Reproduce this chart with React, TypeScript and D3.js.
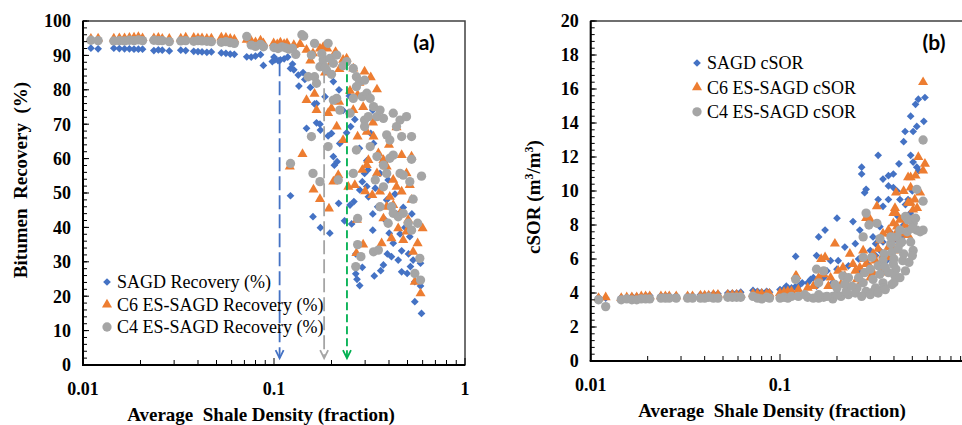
import React from "react";
import * as d3 from "d3";

// shale density values shared by the low-density (flat) runs
const flatX = [0.011, 0.012, 0.0145, 0.0155, 0.0165, 0.0175, 0.0185, 0.0195, 0.0205, 0.0235, 0.0248, 0.026, 0.0283, 0.0325, 0.0345, 0.038, 0.04, 0.042, 0.0445, 0.047, 0.053, 0.056, 0.059, 0.062, 0.072, 0.076, 0.08, 0.085, 0.088];

const sagdRecFlat = [92.1, 91.9, 92.1, 92, 91.9, 91.9, 91.8, 91.8, 91.8, 91.4, 91.6, 91.5, 91.3, 91.5, 91.4, 91.2, 91.1, 91, 90.9, 91, 90.7, 90.6, 90.4, 90.3, 89.6, 89.5, 89.8, 90.2, 87.1];
const c6RecFlat = [94.8, 94.9, 94.9, 95, 95, 95.1, 95.2, 95.3, 95, 95, 95.1, 94.8, 94.8, 94.9, 95.2, 95.1, 95, 95, 94.8, 94.9, 95.2, 95.1, 94.8, 94.6, 94.5, 94.2, 93.8, 94.3, 93.5];
const c4RecFlat = [94.4, 94.3, 94.2, 94.3, 94.2, 94.4, 94.3, 94.5, 94.3, 94.4, 94.3, 94.3, 94, 94.2, 94.3, 94.1, 94.3, 94.2, 94.1, 94, 93.8, 94, 93.7, 93.5, 95.5, 93, 92.6, 93.2, 92.5];

const sagdSorFlat = [3.75, 3.7, 3.75, 3.75, 3.8, 3.8, 3.8, 3.85, 3.85, 3.85, 3.85, 3.85, 3.85, 3.85, 3.85, 3.9, 3.9, 3.9, 3.95, 3.95, 4.0, 4.0, 4.0, 4.05, 4.15, 4.1, 4.05, 4.1, 4.05];
const c6SorFlat = [3.7, 3.75, 3.7, 3.75, 3.75, 3.75, 3.8, 3.8, 3.8, 3.8, 3.8, 3.8, 3.8, 3.8, 3.8, 3.85, 3.85, 3.85, 3.9, 3.9, 3.9, 3.9, 3.9, 3.9, 3.95, 3.95, 3.95, 3.95, 3.95];
const c4SorFlat = [3.6, 3.2, 3.6, 3.65, 3.6, 3.6, 3.65, 3.65, 3.65, 3.7, 3.7, 3.7, 3.7, 3.7, 3.7, 3.7, 3.7, 3.75, 3.7, 3.7, 3.75, 3.75, 3.75, 3.75, 3.8, 3.7, 3.65, 3.75, 3.7];

// [shale density, recovery %] above 0.09
const sagdRec: [number, number][] = [
  [0.098, 88.2], [0.101, 88.7], [0.108, 88.7], [0.113, 89], [0.1, 89.5], [0.105, 88.5], [0.118, 89.5], [0.125, 87.5],
  [0.122, 86.2], [0.127, 85.8], [0.134, 84.3], [0.135, 81.1], [0.145, 83], [0.155, 80.7], [0.148, 68.8], [0.163, 75.9],
  [0.167, 76], [0.167, 70.4], [0.174, 70], [0.175, 68.3], [0.122, 49.2], [0.16, 43.1], [0.175, 39.9], [0.196, 38.3],
  [0.192, 66.6], [0.2, 67.3], [0.2045, 60.6], [0.207, 58.1], [0.214, 59.1], [0.218, 47], [0.221, 64.4], [0.2045, 82.4],
  [0.219, 80], [0.234, 41.9], [0.24, 67.5], [0.248, 78.2], [0.252, 69.3], [0.255, 41], [0.265, 71.4], [0.25, 46.5],
  [0.262, 47.5], [0.268, 32.3], [0.268, 26.5], [0.272, 24.9], [0.281, 23.1], [0.29, 28.4], [0.281, 50.9], [0.29, 53.3],
  [0.298, 55.7], [0.306, 59.4], [0.31, 56.7], [0.312, 48.9], [0.321, 67.3], [0.329, 74.1], [0.329, 43.9], [0.329, 39.2],
  [0.339, 51.4], [0.349, 46], [0.335, 25.9], [0.362, 27.4], [0.374, 29.1], [0.381, 42.2], [0.392, 32.3], [0.389, 48],
  [0.396, 53.8], [0.401, 38.3], [0.412, 31.5], [0.421, 35.4], [0.43, 49.7], [0.438, 43.9], [0.447, 30.5], [0.457, 38.1],
  [0.466, 33.2], [0.475, 45.8], [0.466, 27.1], [0.485, 40], [0.498, 26.6], [0.506, 32.3], [0.514, 37.3], [0.527, 43.9],
  [0.518, 28.6], [0.535, 30.5], [0.546, 24.2], [0.546, 18.4], [0.585, 29.6], [0.585, 23], [0.592, 15], [0.575, 30.5],
  [0.306, 51.9], [0.359, 55.7], [0.374, 59.6], [0.332, 64.4], [0.142, 85], [0.185, 78], [0.23, 74], [0.28, 63],
];
const c6Rec: [number, number][] = [
  [0.0996, 93.5], [0.108, 93.7], [0.117, 93.5], [0.127, 93], [0.104, 93.2], [0.113, 93.3], [0.137, 93.3], [0.148, 91.6],
  [0.16, 90.6], [0.174, 92], [0.181, 92.4], [0.19, 92], [0.21, 91], [0.23, 88.7], [0.24, 89.1], [0.26, 86.2],
  [0.298, 85.3], [0.321, 83.6], [0.346, 80.1], [0.148, 77], [0.163, 78.8], [0.167, 74.1], [0.192, 73.2], [0.2, 74.6],
  [0.213, 69.3], [0.219, 76.5], [0.23, 65.4], [0.26, 74.1], [0.274, 66.4], [0.293, 75], [0.306, 67.8], [0.312, 59.6],
  [0.332, 66.4], [0.352, 61.5], [0.374, 59.6], [0.389, 57.7], [0.438, 69.1], [0.466, 61], [0.494, 55.7], [0.525, 48],
  [0.121, 57.7], [0.141, 61.3], [0.161, 51], [0.174, 48.2], [0.194, 45.5], [0.2045, 53.3], [0.217, 55.2], [0.245, 51.8],
  [0.265, 52.3], [0.272, 42.2], [0.293, 35], [0.27, 32.5], [0.29, 56.7], [0.306, 58.1], [0.327, 49.4], [0.346, 55.7],
  [0.359, 50.4], [0.366, 35.4], [0.389, 46], [0.404, 48.9], [0.412, 36.8], [0.421, 53.8], [0.438, 51.8], [0.447, 39.7],
  [0.457, 44.1], [0.466, 50.4], [0.475, 36.3], [0.494, 38.8], [0.504, 42.2], [0.514, 52.3], [0.535, 32.9], [0.546, 24.2],
  [0.565, 35.4], [0.585, 20.8], [0.6, 39.7], [0.525, 60.6], [0.274, 78.5], [0.25, 79.7], [0.374, 42.6], [0.421, 46.5],
  [0.2, 88], [0.22, 86], [0.155, 88.5], [0.185, 85], [0.28, 82], [0.33, 70.5], [0.4, 64], [0.3, 50.5],
];
const c4Rec: [number, number][] = [
  [0.1, 92.3], [0.105, 92], [0.11, 92.5], [0.115, 92.2], [0.12, 91.8], [0.125, 92], [0.13, 90.3],
  [0.122, 58.6], [0.14, 96], [0.143, 95.6], [0.157, 90.1], [0.163, 93.5], [0.192, 93.5], [0.174, 86.7], [0.181, 88.7],
  [0.188, 85.8], [0.196, 89.1], [0.2045, 87.7], [0.213, 90.1], [0.24, 88.2], [0.26, 86.2], [0.27, 83.8], [0.281, 82.4],
  [0.298, 82.8], [0.163, 83.8], [0.167, 81.9], [0.151, 83.8], [0.2045, 77], [0.213, 77.5], [0.221, 74.1], [0.25, 73.2],
  [0.26, 77.5], [0.27, 80.9], [0.29, 78], [0.306, 79], [0.319, 77.5], [0.332, 75.1], [0.298, 71.2], [0.312, 72.2],
  [0.346, 72.2], [0.359, 74.1], [0.374, 71.7], [0.389, 66.9], [0.404, 65.4], [0.421, 73.2], [0.438, 69.3], [0.457, 71.2],
  [0.494, 72.2], [0.466, 66.4], [0.525, 66.4], [0.27, 62.5], [0.298, 69.3], [0.319, 63.5], [0.346, 60.6], [0.374, 58.1],
  [0.404, 60.1], [0.421, 61], [0.457, 55.7], [0.475, 55.2], [0.514, 53.3], [0.592, 54.9], [0.525, 59.8], [0.157, 66.4],
  [0.16, 55.7], [0.174, 53.3], [0.192, 63.5], [0.217, 53.8], [0.26, 55.7], [0.274, 42.6], [0.274, 35], [0.268, 28.6],
  [0.285, 31.5], [0.332, 32.9], [0.352, 33.4], [0.339, 53.8], [0.374, 51.8], [0.412, 46], [0.421, 44.1], [0.447, 43.1],
  [0.475, 44.1], [0.504, 41.2], [0.525, 39.2], [0.535, 48.2], [0.565, 41.2], [0.58, 31], [0.585, 24.7], [0.546, 26.6],
  [0.389, 55.7], [0.359, 46], [0.396, 41.2], [0.178, 90.5], [0.185, 86.5], [0.2, 84.5], [0.23, 87],
];

// [shale density, cSOR m3/m3] above 0.09
const sagdSor: [number, number][] = [
  [0.1, 4.2], [0.105, 4.25], [0.11, 4.3], [0.115, 4.3], [0.12, 4.35], [0.125, 4.4], [0.121, 6.15], [0.108, 4.4],
  [0.131, 4.6], [0.14, 4.6], [0.145, 4.8], [0.15, 4.9], [0.156, 4.4], [0.156, 6.2], [0.16, 7.3], [0.173, 7.7],
  [0.177, 5.3], [0.185, 5.9], [0.19, 4.6], [0.2, 8.4], [0.203, 5.9], [0.22, 6.7], [0.224, 4.9], [0.243, 8.2],
  [0.25, 6.9], [0.264, 7.7], [0.264, 5.2], [0.27, 11.4], [0.27, 11.0], [0.275, 6.1], [0.28, 9.9], [0.285, 10.1],
  [0.3, 6.5], [0.31, 7.3], [0.32, 6.9], [0.33, 12.1], [0.33, 9.5], [0.337, 7.9], [0.337, 6.5], [0.35, 10.7],
  [0.35, 9.1], [0.365, 5.9], [0.374, 10.9], [0.374, 10.3], [0.374, 9.5], [0.397, 11], [0.397, 10.2], [0.415, 10],
  [0.415, 7.1], [0.425, 11.6], [0.43, 9.5], [0.445, 7.3], [0.45, 12.9], [0.45, 8.0], [0.458, 13.5], [0.475, 9.5],
  [0.488, 8.7], [0.49, 14.4], [0.49, 12.1], [0.505, 13.5], [0.505, 11.7], [0.52, 15.1], [0.528, 13.8], [0.528, 11.4],
  [0.538, 15.4], [0.575, 14.1], [0.583, 15.5], [0.17, 4.9], [0.2, 5.4], [0.23, 5.6], [0.26, 6.0], [0.29, 5.7],
  [0.32, 6.2], [0.35, 7.0], [0.38, 7.6], [0.42, 8.5], [0.46, 9.2], [0.5, 10.0], [0.54, 11.2],
];
const c6Sor: [number, number][] = [
  [0.1, 4.0], [0.105, 4.05], [0.11, 4.1], [0.115, 4.1], [0.125, 4.2], [0.14, 4.3], [0.15, 4.4], [0.122, 5.0],
  [0.57, 16.4], [0.538, 12], [0.583, 11.6], [0.57, 11.2], [0.52, 10.9], [0.49, 10.8], [0.475, 10.8], [0.45, 10],
  [0.49, 10.2], [0.41, 9.9], [0.515, 9.5], [0.49, 9.3], [0.475, 9.3], [0.505, 8.9], [0.325, 9.1], [0.405, 9],
  [0.397, 8.7], [0.41, 8.7], [0.285, 8.4], [0.3, 8.3], [0.43, 8.3], [0.45, 7.5], [0.397, 8.1], [0.374, 7.7],
  [0.35, 7.5], [0.337, 7.1], [0.475, 7.4], [0.195, 6.9], [0.234, 6.3], [0.275, 6.5], [0.31, 6.3], [0.33, 6.6],
  [0.374, 6.7], [0.165, 6.0], [0.173, 6.1], [0.16, 4.9], [0.17, 5.1], [0.185, 4.9], [0.203, 5.3], [0.215, 5.5],
  [0.243, 5.7], [0.264, 5.5], [0.285, 5.7], [0.3, 5.5], [0.31, 5.2], [0.345, 5.2], [0.374, 6.1], [0.397, 7.2],
  [0.3, 4.9], [0.121, 5.0], [0.224, 4.6], [0.255, 4.8], [0.38, 7.5], [0.415, 7.9], [0.41, 7.5], [0.55, 9.9],
  [0.18, 4.4], [0.21, 4.5], [0.27, 4.7], [0.22, 5.0], [0.25, 5.3], [0.28, 6.0], [0.32, 5.9], [0.35, 6.2],
  [0.4, 6.5], [0.43, 7.0], [0.46, 8.0], [0.5, 8.3], [0.53, 9.0],
];
const c4Sor: [number, number][] = [
  [0.1, 3.7], [0.105, 3.75], [0.11, 3.7], [0.115, 3.8], [0.125, 3.8], [0.14, 3.75], [0.16, 3.7], [0.17, 3.75],
  [0.19, 3.8], [0.21, 3.8], [0.23, 3.9], [0.19, 3.65], [0.57, 13], [0.528, 10.1], [0.57, 9.4], [0.46, 8.5],
  [0.49, 8.3], [0.505, 8.1], [0.528, 7.7], [0.57, 7.7], [0.55, 7.6], [0.49, 7.0], [0.505, 6.5], [0.415, 7.3],
  [0.43, 6.9], [0.45, 6.3], [0.445, 5.9], [0.385, 6.9], [0.39, 6.4], [0.355, 6.3], [0.285, 8.7], [0.295, 8.0],
  [0.275, 7.3], [0.325, 8.1], [0.337, 7.2], [0.305, 6.1], [0.275, 6.1], [0.397, 5.7], [0.41, 5.4], [0.374, 5.2],
  [0.405, 5.0], [0.337, 5.1], [0.31, 4.8], [0.275, 4.6], [0.255, 4.3], [0.35, 4.6], [0.39, 4.5], [0.32, 4.3],
  [0.285, 4.1], [0.25, 4.0], [0.224, 4.1], [0.2, 3.9], [0.177, 3.8], [0.16, 3.9], [0.15, 3.7], [0.135, 3.9],
  [0.16, 4.6], [0.17, 5.3], [0.156, 5.4], [0.195, 4.5], [0.215, 5.0], [0.23, 4.9], [0.121, 4.8], [0.35, 5.9],
  [0.43, 7.7], [0.475, 8.3], [0.385, 7.3], [0.313, 4.1], [0.355, 4.3], [0.27, 3.8], [0.2, 4.3], [0.22, 4.5],
  [0.24, 4.4], [0.26, 4.9], [0.28, 5.2], [0.3, 5.4], [0.33, 5.6], [0.36, 5.5], [0.4, 6.0], [0.42, 6.6],
  [0.44, 7.0], [0.47, 7.6], [0.5, 7.8], [0.52, 8.4], [0.3, 3.9], [0.33, 4.0], [0.36, 4.2], [0.4, 4.6],
  [0.43, 4.9], [0.46, 5.3], [0.48, 5.8], [0.5, 6.2],
];

// dashed arrows in panel (a): threshold shale density and start value
const arrowX = [0.107, 0.183, 0.241];
const arrowTop = [88, 86, 88];

const legendA = ["SAGD Recovery (%)", "C6 ES-SAGD Recovery (%)", "C4 ES-SAGD Recovery (%)"];
const legendB = ["SAGD cSOR", "C6 ES-SAGD cSOR", "C4 ES-SAGD cSOR"];
const xTicks = [0.01, 0.1, 1];
const xTickLabels = ["0.01", "0.1", "1"];

const COLORS = ["#4472C4", "#ED7D31", "#A5A5A5"];
const ARROW_COLORS = ["#4472C4", "#A5A5A5", "#00B050"];
const ARROW_DASH = ["14,5", "14,5", "8,4"];
const SERIF = "Liberation Serif";

const SHAPES = [
  d3.symbol().type(d3.symbolSquare).size(30)(),
  d3.symbol().type(d3.symbolTriangle).size(44)(),
  d3.symbol().type(d3.symbolCircle).size(68)(),
];

const join = (xs: number[], ys: number[], rest: [number, number][]) =>
  xs.map((x, i) => [x, ys[i]] as [number, number]).concat(rest);

function Marker({ k, x, y }: { k: number; x: number; y: number }) {
  return (
    <path
      d={SHAPES[k] as string}
      fill={COLORS[k]}
      transform={`translate(${x},${y})${k === 0 ? " rotate(45)" : ""}`}
    />
  );
}

type PanelProps = {
  left: number;
  right: number;
  top: number;
  bottom: number;
  yMax: number;
  yStep: number;
  yMinor: number;
  series: [number, number][][];
  legend: string[];
  legendX: number;
  legendY: number;
  legendGap: number;
  tag: string;
  tagX: number;
  yTitle: React.ReactNode;
  yTitleX: number;
  yTitleY: number;
  xTitleX: number;
  xTitleY: number;
  maxLabelX: number;
  children?: (x: d3.ScaleLogarithmic<number, number>, y: d3.ScaleLinear<number, number>) => React.ReactNode;
};

function Panel(p: PanelProps) {
  const x = d3.scaleLog().domain([0.01, 1]).range([p.left, p.right]);
  const y = d3.scaleLinear().domain([0, p.yMax]).range([p.bottom, p.top]);
  const majors = d3.range(0, p.yMax + 1e-9, p.yStep);
  const minors = d3.range(0, p.yMax + 1e-9, p.yMinor);
  const xMinor = [0.01, 0.1].flatMap((d) => d3.range(2, 10).map((k) => k * d));
  const font = { fontFamily: SERIF };

  return (
    <g>
      {p.series.map((pts, k) =>
        pts.map(([a, b], i) => <Marker key={`${k}-${i}`} k={k} x={x(a)} y={y(b)} />)
      )}
      {p.children && p.children(x, y)}
      {/* frame */}
      <rect x={p.left} y={p.top} width={p.right - p.left} height={p.bottom - p.top} fill="none" stroke="#404040" strokeWidth={1.5} />
      <line x1={p.left} x2={p.left} y1={p.top} y2={p.bottom} stroke="#000" strokeWidth={2} />
      <line x1={p.left - 1} x2={p.right} y1={p.bottom} y2={p.bottom} stroke="#000" strokeWidth={2} />
      {minors.map((v) => (
        <line key={`ym${v}`} x1={p.left} x2={p.left + 4} y1={y(v)} y2={y(v)} stroke="#000" strokeWidth={1} />
      ))}
      {majors.map((v) => (
        <g key={`y${v}`}>
          <line x1={p.left} x2={p.left + 6} y1={y(v)} y2={y(v)} stroke="#000" strokeWidth={1} />
          <text x={p.left - 12} y={y(v)} dy="0.35em" textAnchor="end" style={font} fontWeight="bold" fontSize={18}>
            {d3.format("d")(v)}
          </text>
        </g>
      ))}
      {xMinor.map((v) => (
        <line key={`xm${v}`} x1={x(v)} x2={x(v)} y1={p.bottom} y2={p.bottom - 5} stroke="#000" strokeWidth={1} />
      ))}
      {xTicks.map((v, i) => (
        <g key={`x${v}`}>
          <line x1={x(v)} x2={x(v)} y1={p.bottom} y2={p.bottom - 7} stroke="#000" strokeWidth={1} />
          {x(v) <= p.maxLabelX && (
            <text x={x(v)} y={p.bottom + 30} textAnchor="middle" style={font} fontWeight="bold" fontSize={18}>
              {xTickLabels[i]}
            </text>
          )}
        </g>
      ))}
      <text x={p.xTitleX} y={p.xTitleY} textAnchor="middle" style={{ ...font, whiteSpace: "pre" }} fontWeight="bold" fontSize={19}>
        {"Average  Shale Density (fraction)"}
      </text>
      <text
        transform={`translate(${p.yTitleX},${p.yTitleY}) rotate(-90)`}
        textAnchor="middle"
        style={{ ...font, whiteSpace: "pre" }}
        fontWeight="bold"
        fontSize={19}
      >
        {p.yTitle}
      </text>
      <text x={p.tagX} y={50} textAnchor="middle" style={{ fontFamily: "Lato" }} fontWeight="bold" fontSize={21}>
        {p.tag}
      </text>
      {p.legend.map((label, k) => (
        <g key={label}>
          <Marker k={k} x={p.legendX} y={p.legendY + k * p.legendGap} />
          <text x={p.legendX + 10} y={p.legendY + k * p.legendGap} dy="0.35em" style={font} fontSize={18} fill="#000">
            {label}
          </text>
        </g>
      ))}
    </g>
  );
}

export default function App() {
  const recSeries = [
    join(flatX, sagdRecFlat, sagdRec),
    join(flatX, c6RecFlat, c6Rec),
    join(flatX, c4RecFlat, c4Rec),
  ];
  const sorSeries = [
    join(flatX, sagdSorFlat, sagdSor),
    join(flatX, c6SorFlat, c6Sor),
    join(flatX, c4SorFlat, c4Sor),
  ];

  return (
    <div style={{ position: "absolute", left: 0, top: 0 }}>
      <svg width={962} height={425} style={{ display: "block", background: "#fff" }}>
        <Panel
          left={83}
          right={465}
          top={21}
          bottom={365}
          yMax={100}
          yStep={10}
          yMinor={2}
          series={recSeries}
          legend={legendA}
          legendX={107}
          legendY={282}
          legendGap={22.5}
          tag="(a)"
          tagX={424}
          yTitle={"Bitumen  Recovery  (%)"}
          yTitleX={27}
          yTitleY={180}
          xTitleX={261}
          xTitleY={421}
          maxLabelX={962}
        >
          {(x, y) =>
            arrowX.map((a, i) => {
              const px = x(a);
              const y0 = y(arrowTop[i]);
              const y1 = y(2);
              return (
                <g key={`arr${i}`} stroke={ARROW_COLORS[i]} strokeWidth={1.8} fill="none">
                  <line x1={px} x2={px} y1={y0} y2={y1} strokeDasharray={ARROW_DASH[i]} />
                  <path d={`M${px - 4},${y1 - 8} L${px},${y1} L${px + 4},${y1 - 8}`} />
                </g>
              );
            })
          }
        </Panel>
        <Panel
          left={590.7}
          right={969.3}
          top={21}
          bottom={361}
          yMax={20}
          yStep={2}
          yMinor={0.4}
          series={sorSeries}
          legend={legendB}
          legendX={697}
          legendY={63}
          legendGap={24.4}
          tag="(b)"
          tagX={934}
          yTitle={
            <>
              {"cSOR (m"}
              <tspan baselineShift="super" fontSize={12}>3</tspan>
              {"/m"}
              <tspan baselineShift="super" fontSize={12}>3</tspan>
              {")"}
            </>
          }
          yTitleX={540}
          yTitleY={197}
          xTitleX={772}
          xTitleY={417}
          maxLabelX={950}
        />
      </svg>
    </div>
  );
}
